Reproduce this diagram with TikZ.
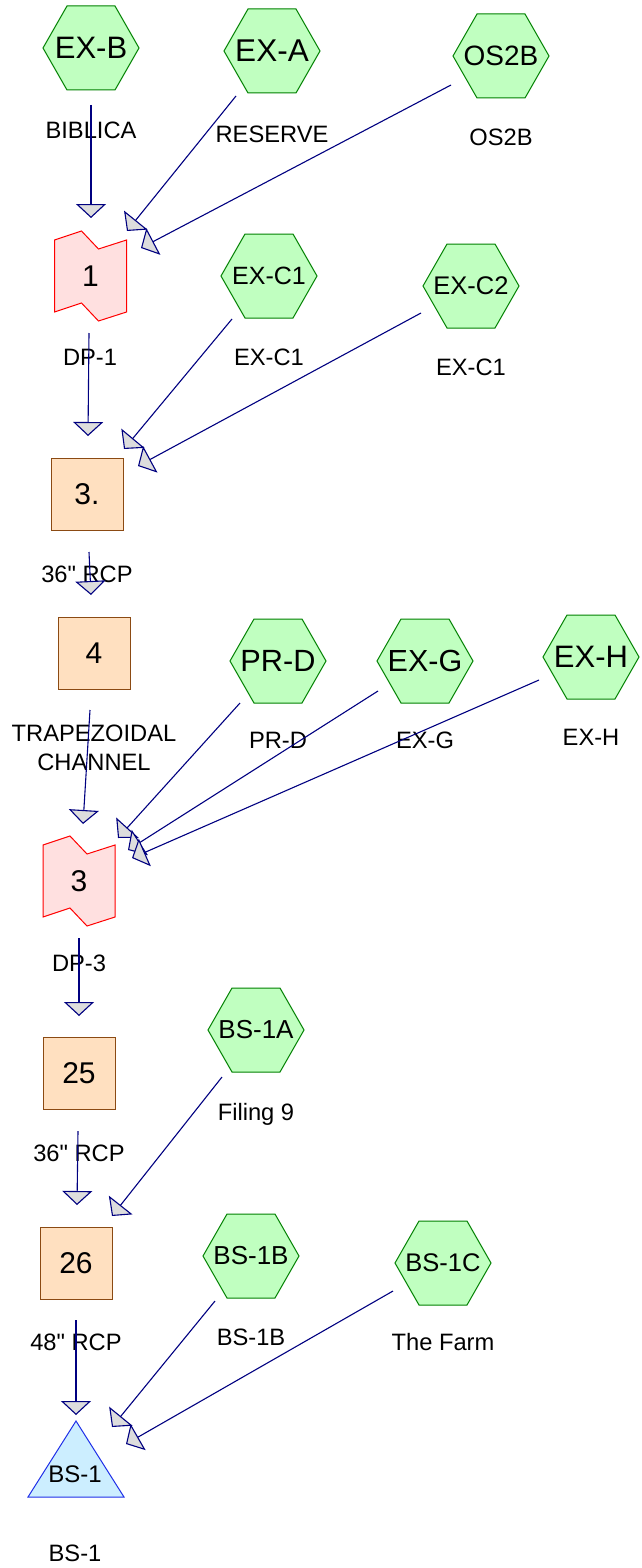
\documentclass[tikz,border=0pt]{standalone}
\usepackage{fontspec}
\setmainfont{Liberation Sans}[Ligatures=TeXOff]
\usetikzlibrary{arrows.meta,shapes.geometric,calc}
\definecolor{hexfill}{HTML}{C0FFC0}
\definecolor{hexdraw}{HTML}{008000}
\definecolor{flagfill}{HTML}{FFE0E0}
\definecolor{flagdraw}{HTML}{FF0000}
\definecolor{boxfill}{HTML}{FFE0C0}
\definecolor{boxdraw}{HTML}{8B4A13}
\definecolor{trifill}{HTML}{CCEEFF}
\definecolor{tridraw}{HTML}{1E2EE8}
\definecolor{flowc}{HTML}{000080}
\definecolor{arrowfill}{HTML}{DDDDDD}
\newcommand\fsz[1]{\fontsize{#1}{#1}\selectfont}
\newcommand\flagat[4]{%
  \draw[flagshape] (#2,#3) ++(-36,-36) -- ++(27,-9) -- ++(17,18) -- ++(28,-9)
    -- ++(0,72) -- ++(-28,9) -- ++(-17,-18) -- ++(-27,9) -- cycle;
  \node[flagtxt] (#1) at (#2,#3) {#4};}
\newcommand\hexat[5]{%
  \draw[hexshape] (#2,#3) ++(-48,0) -- ++(24,-42) -- ++(48,0) -- ++(24,42)
    -- ++(-24,42) -- ++(-48,0) -- cycle;
  \node[inner sep=0pt, font=\fsz{#4}] (#1) at (#2,#3) {#5};}
\begin{document}
\begin{tikzpicture}[x=1pt,y=-1pt,
  hexshape/.style={draw=hexdraw, fill=hexfill, line width=1pt},
  flagshape/.style={draw=flagdraw, fill=flagfill, line width=1pt},
  flagtxt/.style={inner sep=0pt, font=\fsz{30}},
  boxnode/.style={draw=boxdraw, fill=boxfill, minimum size=72pt, inner sep=0pt,
    line width=1pt, font=\fsz{30}},
  trishape/.style={draw=tridraw, fill=trifill, line width=1pt},
  lbl/.style={inner sep=0pt, font=\fsz{23.7}, text height=17pt, text depth=0pt},
  flow/.style={draw=flowc, line width=1.1pt,
    -{Triangle[length=14pt,width=30pt,fill=arrowfill]}}
]
\useasboundingbox (0,0) rectangle (641,1568);

% ---- nodes ----
\hexat{exb}{91}{48}{31}{EX-B}
\hexat{exa}{272}{51}{31.5}{EX-A}
\hexat{os2b}{501}{56}{28}{OS2B}
\flagat{dp1}{90.5}{276}{1}
\hexat{exc1}{269}{276}{25}{EX-C1}
\hexat{exc2}{471}{286}{25.5}{EX-C2}
\node[boxnode] (b3) at (87,494) {3.};
\node[boxnode] (b4) at (94,653) {4};
\hexat{prd}{278}{661}{30.7}{PR-D}
\hexat{exg}{425}{661}{30.5}{EX-G}
\hexat{exh}{591}{657}{31}{EX-H}
\flagat{dp3}{79}{881}{3}
\node[boxnode] (b25) at (79,1073) {25};
\hexat{bs1a}{256}{1030}{26}{BS-1A}
\node[boxnode] (b26) at (76,1263) {26};
\hexat{bs1b}{251}{1256}{26}{BS-1B}
\hexat{bs1c}{443}{1263}{25.5}{BS-1C}
\draw[trishape] (76,1421) -- (124,1497) -- (28,1497) -- cycle;
\node[inner sep=0pt, font=\fsz{24}] (bs1) at (75,1474) {BS-1};

% ---- labels ----
\node[lbl] (l-exb) at (91,130) {BIBLICA};
\node[lbl] (l-exa) at (272,134) {RESERVE};
\node[lbl] (l-os2b) at (501,137) {OS2B};
\node[lbl] (l-dp1) at (90,357) {DP-1};
\node[lbl] (l-exc1) at (269,357) {EX-C1};
\node[lbl] (l-exc2) at (471,367) {EX-C1};
\node[lbl] (l-b3) at (87,574) {36" RCP};
\node[inner sep=0pt, align=center, font=\fontsize{23.7}{29}\selectfont] (l-b4) at (94,747.5) {TRAPEZOIDAL\\CHANNEL};
\node[lbl] (l-prd) at (278,740) {PR-D};
\node[lbl] (l-exg) at (425,740) {EX-G};
\node[lbl] (l-exh) at (591,737) {EX-H};
\node[lbl] (l-dp3) at (79,963) {DP-3};
\node[lbl] (l-b25) at (79,1153) {36" RCP};
\node[lbl] (l-bs1a) at (256,1112) {Filing 9};
\node[lbl] (l-b26) at (76,1342) {48" RCP};
\node[lbl] (l-bs1b) at (251,1337) {BS-1B};
\node[lbl] (l-bs1c) at (443,1342) {The Farm};
\node[lbl] (l-bs1) at (75,1553) {BS-1};

% ---- connector end points ----
\coordinate (exb-o) at (91,105);   \coordinate (dp1-i1) at (91,218);
\coordinate (exa-o) at (236,96);   \coordinate (dp1-i2) at (127,231);
\coordinate (os2b-o) at (451,85);  \coordinate (dp1-i3) at (141,248);
\coordinate (dp1-o) at (89,333);   \coordinate (b3-i1) at (88,436);
\coordinate (exc1-o) at (232,319); \coordinate (b3-i2) at (124,449);
\coordinate (exc2-o) at (421,313); \coordinate (b3-i3) at (138,466);
\coordinate (b3-o) at (89,552);    \coordinate (b4-i) at (91,595);
\coordinate (b4-o) at (90,710);    \coordinate (dp3-i1) at (83,824);
\coordinate (prd-o) at (240,703);  \coordinate (dp3-i2) at (118,838);
\coordinate (exg-o) at (378,691);  \coordinate (dp3-i3) at (128,850);
\coordinate (exh-o) at (539,680);  \coordinate (dp3-i4) at (132,858);
\coordinate (dp3-o) at (79,938);   \coordinate (b25-i) at (79,1016);
\coordinate (b25-o) at (78,1131);  \coordinate (b26-i1) at (77,1205);
\coordinate (bs1a-o) at (222,1077);\coordinate (b26-i2) at (112,1216);
\coordinate (b26-o) at (76,1320);  \coordinate (bs1-i1) at (76,1415);
\coordinate (bs1b-o) at (215,1301);\coordinate (bs1-i2) at (112,1427);
\coordinate (bs1c-o) at (393,1291);\coordinate (bs1-i3) at (126,1444);

% ---- connectors ----
\draw[flow] (exb-o) -- (dp1-i1);
\draw[flow] (exa-o) -- (dp1-i2);
\draw[flow] (os2b-o) -- (dp1-i3);
\draw[flow] (dp1-o) -- (b3-i1);
\draw[flow] (exc1-o) -- (b3-i2);
\draw[flow] (exc2-o) -- (b3-i3);
\draw[flow] (b3-o) -- (b4-i);
\draw[flow] (b4-o) -- (dp3-i1);
\draw[flow] (prd-o) -- (dp3-i2);
\draw[flow] (exg-o) -- (dp3-i3);
\draw[flow] (exh-o) -- (dp3-i4);
\draw[flow] (dp3-o) -- (b25-i);
\draw[flow] (b25-o) -- (b26-i1);
\draw[flow] (bs1a-o) -- (b26-i2);
\draw[flow] (b26-o) -- (bs1-i1);
\draw[flow] (bs1b-o) -- (bs1-i2);
\draw[flow] (bs1c-o) -- (bs1-i3);
\end{tikzpicture}
\end{document}
